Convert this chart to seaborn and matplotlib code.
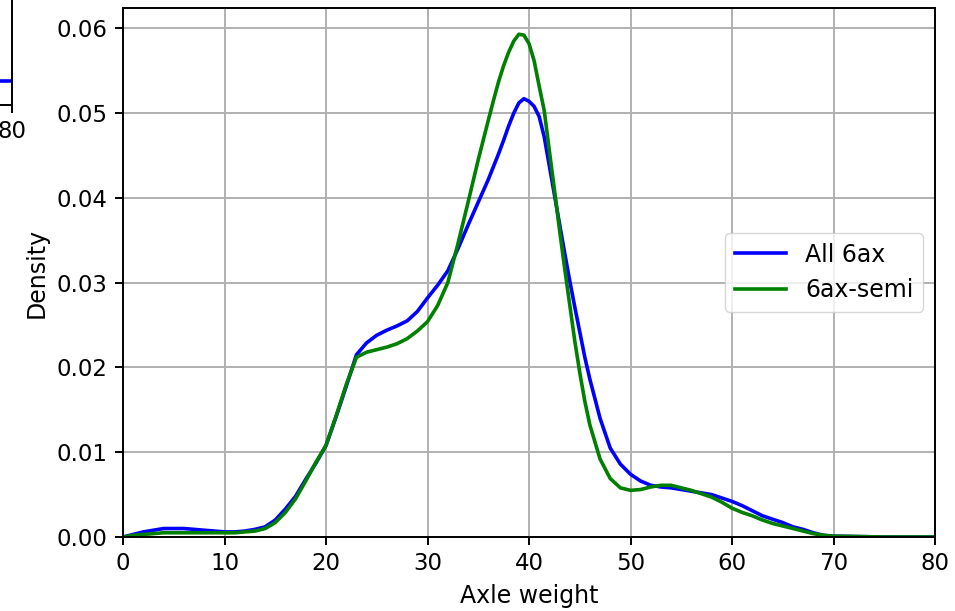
import matplotlib
matplotlib.use("Agg")
import matplotlib.pyplot as plt
import seaborn as sns
import pandas as pd

# ---- data ----
axle_weight = [0, 1, 2, 3, 4, 5, 6, 7, 8, 9, 10, 11, 12, 13, 14, 15, 16, 17, 18, 19,
               20, 21, 22, 23, 24, 25, 26, 27, 28, 29, 30, 31, 32, 33, 34, 35, 36,
               36.5, 37, 37.5, 38, 38.5, 39, 39.5, 40, 40.5, 41, 41.5, 42, 42.5, 43,
               43.5, 44, 44.5, 45, 45.5, 46, 47, 48, 49, 50, 51, 52, 53, 54, 55, 56,
               57, 58, 59, 60, 61, 62, 63, 64, 65, 66, 67, 68, 69, 70, 75, 80]

density_all_6ax = [0.0000, 0.0003, 0.0006, 0.0008, 0.0010, 0.0010, 0.0010, 0.0009, 0.0008,
                   0.0007, 0.0006, 0.0006, 0.0007, 0.0009, 0.0012, 0.0020, 0.0033, 0.0048,
                   0.0068, 0.0087, 0.0108, 0.0142, 0.0178, 0.0215, 0.0229, 0.0238, 0.0244,
                   0.0249, 0.0255, 0.0266, 0.0282, 0.0297, 0.0314, 0.0340, 0.0368, 0.0395,
                   0.0422, 0.0437, 0.0452, 0.0468, 0.0485, 0.0500, 0.0512, 0.0517, 0.0514,
                   0.0508, 0.0496, 0.0472, 0.0438, 0.0404, 0.0370, 0.0336, 0.0303, 0.0272,
                   0.0242, 0.0212, 0.0186, 0.0140, 0.0105, 0.0086, 0.0074, 0.0066, 0.0061,
                   0.0059, 0.0058, 0.0056, 0.0054, 0.0052, 0.0050, 0.0046, 0.0042, 0.0037,
                   0.0031, 0.0025, 0.0021, 0.0017, 0.0012, 0.0009, 0.0005, 0.0002, 0.0001,
                   0.0000, 0.0000]

density_6ax_semi = [0.0000, 0.0002, 0.0003, 0.0004, 0.0005, 0.0005, 0.0005, 0.0005, 0.0005,
                    0.0005, 0.0005, 0.0005, 0.0006, 0.0007, 0.0010, 0.0017, 0.0029, 0.0045,
                    0.0066, 0.0088, 0.0108, 0.0143, 0.0180, 0.0212, 0.0218, 0.0221, 0.0224,
                    0.0228, 0.0234, 0.0243, 0.0254, 0.0273, 0.0300, 0.0346, 0.0395, 0.0445,
                    0.0492, 0.0515, 0.0537, 0.0556, 0.0572, 0.0585, 0.0593, 0.0592, 0.0582,
                    0.0562, 0.0532, 0.0503, 0.0456, 0.0410, 0.0363, 0.0318, 0.0275, 0.0232,
                    0.0194, 0.0160, 0.0132, 0.0092, 0.0069, 0.0058, 0.0055, 0.0056, 0.0059,
                    0.0061, 0.0061, 0.0058, 0.0055, 0.0051, 0.0047, 0.0041, 0.0034, 0.0029,
                    0.0025, 0.0020, 0.0016, 0.0013, 0.0010, 0.0007, 0.0004, 0.0002, 0.0001,
                    0.0000, 0.0000]

series_names = ["All 6ax", "6ax-semi"]
series_colors = ["blue", "green"]
x_ticks = [0, 10, 20, 30, 40, 50, 60, 70, 80]
y_ticks = [0.00, 0.01, 0.02, 0.03, 0.04, 0.05, 0.06]

# partially visible neighbouring panel (cut off at the left edge)
left_panel_x = [0, 80]
left_panel_y = [0.1, 0.1]

df = pd.DataFrame({
    "Axle weight": axle_weight * 2,
    "Density": density_all_6ax + density_6ax_semi,
    "series": [series_names[0]] * len(axle_weight) + [series_names[1]] * len(axle_weight),
})

plt.rcParams.update({
    "font.family": ["DejaVu Sans"],
    "font.size": 17,
    "axes.edgecolor": "black",
    "axes.linewidth": 1.4,
    "axes.labelpad": 6,
    "xtick.major.size": 6,
    "ytick.major.size": 6,
    "xtick.major.width": 1.4,
    "ytick.major.width": 1.4,
    "xtick.major.pad": 5,
    "ytick.major.pad": 5,
    "xtick.color": "black",
    "ytick.color": "black",
    "grid.color": "#b0b0b0",
    "grid.linewidth": 1.4,
})

fig = plt.figure(figsize=(9.55, 6.11), dpi=100)
ax = fig.add_axes([123 / 955, 74 / 611, 812 / 955, 529 / 611])

sns.lineplot(data=df, x="Axle weight", y="Density", hue="series",
             palette=dict(zip(series_names, series_colors)),
             linewidth=2.6, ax=ax, sort=False)

ax.set_xlim(0, 80)
ax.set_ylim(0, 0.0624)
ax.set_xticks(x_ticks)
ax.set_yticks(y_ticks)
ax.set_yticklabels([f"{v:.2f}" for v in y_ticks])
ax.grid(True)
ax.set_axisbelow(True)
ax.tick_params(labelsize=16.5)
ax.set_xlabel("Axle weight", fontsize=17)
ax.set_ylabel("Density", fontsize=17)
leg = ax.legend(loc="center right", fontsize=17, framealpha=0.8, handlelength=2.2)
for line in leg.get_lines():
    line.set_linewidth(2.6)

# fragment of the neighbouring panel
ax2 = fig.add_axes([-0.3, (611 - 105) / 611, 0.3 + 12 / 955, 0.4])
sns.lineplot(x=left_panel_x, y=left_panel_y, color="blue", linewidth=2.6, ax=ax2)
ax2.set_xlim(-100, 80)
ax2.set_ylim(0, 1)
ax2.set_xticks([80])
ax2.set_yticks([])
ax2.tick_params(labelsize=16.5)
ax2.grid(False)

fig.savefig("out.png", dpi=100)
